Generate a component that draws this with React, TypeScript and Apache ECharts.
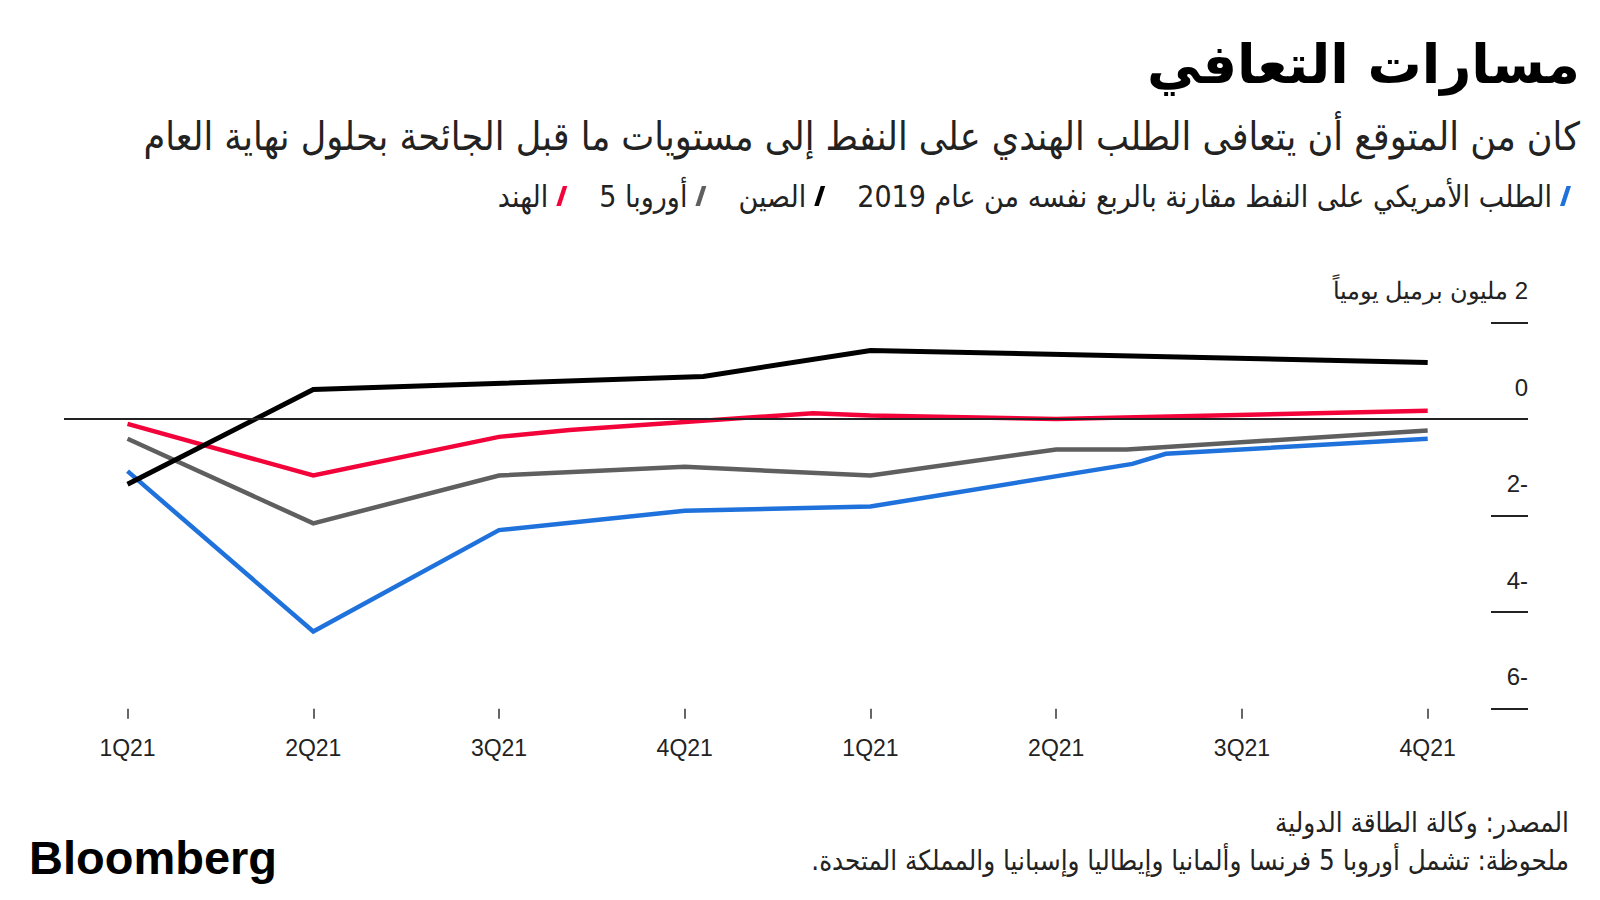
import React, { useEffect, useRef } from 'react';
import * as echarts from 'echarts';

// ---------- data ----------
const quarterLabels = ['1Q21', '2Q21', '3Q21', '4Q21', '1Q21', '2Q21', '3Q21', '4Q21'];
const quarterTicks = [0, 1, 2, 3, 4, 5, 6, 7];

const usName = 'الطلب الأمريكي على النفط مقارنة بالربع نفسه من عام 2019';
const chinaName = 'الصين';
const europeName = 'أوروبا 5';
const indiaName = 'الهند';

// x = quarter position, y = change vs same quarter of 2019 (million b/d)
const usQuarter = [0, 1, 2, 3, 4, 5.41, 5.59, 7];
const usDemand = [-1.08, -4.4, -2.3, -1.9, -1.81, -0.93, -0.72, -0.41];

const chinaQuarter = [0, 1, 3.1, 4, 7];
const chinaDemand = [-1.35, 0.61, 0.88, 1.42, 1.17];

const europeQuarter = [0, 1, 2, 3, 4, 5, 5.38, 7];
const europeDemand = [-0.41, -2.16, -1.17, -0.99, -1.17, -0.63, -0.63, -0.24];

const indiaQuarter = [0, 1, 2, 2.38, 3.69, 4, 5, 7];
const indiaDemand = [-0.1, -1.17, -0.37, -0.23, 0.12, 0.07, 0.0, 0.17];

// ---------- texts ----------
const titleText = 'مسارات التعافي';
const subtitleText = 'كان من المتوقع أن يتعافى الطلب الهندي على النفط إلى مستويات ما قبل الجائحة بحلول نهاية العام';
const unitText = 'مليون برميل يومياً';
const sourceText = 'المصدر: وكالة الطاقة الدولية';
const noteText = 'ملحوظة: تشمل أوروبا 5 فرنسا وألمانيا وإيطاليا وإسبانيا والمملكة المتحدة.';
const logoText = 'Bloomberg';

const RLM = '\u200F';
const AR = "'DejaVu Sans Condensed', 'DejaVu Sans', sans-serif";
const AR_BOLD = "'DejaVu Sans', sans-serif";
const LAT = "'Liberation Sans', Arial, sans-serif";

const COLORS = {
  us: '#1f72dc',
  china: '#000000',
  europe: '#5f5f5f',
  india: '#f2043a',
};

// legend order, right to left
const legendNames = [usName, chinaName, europeName, indiaName];
const legendColors = [COLORS.us, COLORS.china, COLORS.europe, COLORS.india];

const pairs = (xs: number[], ys: number[]) => xs.map((x, i) => [x, ys[i]]);

export default function App() {
  const ref = useRef<HTMLDivElement>(null);

  useEffect(() => {
    if (!ref.current) return;
    const chart = echarts.init(ref.current, undefined, { renderer: 'svg' });

    const lineSeries = (name: string, color: string, xs: number[], ys: number[], width: number, extra: any = {}) => ({
      name,
      type: 'line',
      data: pairs(xs, ys),
      showSymbol: false,
      symbol: 'none',
      lineStyle: { color, width, cap: 'butt', join: 'miter' },
      itemStyle: { color },
      ...extra,
    });

    // legend built as graphic (right-to-left)
    const legendFontSize = 30;
    const ctx = document.createElement('canvas').getContext('2d');
    if (ctx) ctx.font = `${legendFontSize}px ${AR}`;
    const legendGraphics: any[] = [];
    let xRight = 1571;
    const legendY = 196;
    legendNames.forEach((name, i) => {
      const w = ctx ? ctx.measureText(name).width : name.length * 14;
      legendGraphics.push({
        type: 'polygon',
        x: xRight - 11,
        y: legendY - 10,
        shape: { points: [[6.5, 0], [11, 0], [4.5, 20], [0, 20]] },
        style: { fill: legendColors[i] },
      });
      legendGraphics.push({
        type: 'text',
        x: xRight - 11 - 8,
        y: legendY,
        style: {
          text: name,
          fontFamily: AR,
          fontSize: legendFontSize,
          fill: '#222',
          align: 'right',
          verticalAlign: 'middle',
        },
      });
      xRight = xRight - 19 - w - 32;
    });

    chart.setOption({
      animation: false,
      backgroundColor: '#ffffff',
      grid: { left: 64, right: 72, top: 322.4, bottom: 191.2, containLabel: false },
      xAxis: {
        type: 'value',
        min: -0.342,
        max: 7.54,
        axisLine: { show: false, onZero: false },
        splitLine: { show: false },
        axisTick: {
          show: true,
          customValues: quarterTicks,
          length: 10,
          lineStyle: { color: '#333', width: 1.5 },
        },
        axisLabel: {
          customValues: quarterTicks,
          formatter: (v: number) => quarterLabels[Math.round(v)],
          fontFamily: LAT,
          fontSize: 23,
          color: '#222',
          margin: 28,
        },
      },
      yAxis: {
        type: 'value',
        position: 'right',
        min: -6,
        max: 2,
        interval: 2,
        axisLine: { show: false, onZero: false },
        splitLine: { show: false },
        axisTick: {
          show: true,
          inside: true,
          length: 37,
          lineStyle: { color: '#222', width: 2 },
        },
        axisLabel: {
          inside: true,
          margin: 0,
          fontFamily: LAT,
          fontSize: 24,
          color: '#222',
          verticalAlign: 'bottom',
          padding: [0, 0, 20, 0],
          formatter: (v: number) => {
            if (v === 2) return RLM + '2 ' + unitText;
            if (v < 0) return RLM + String(v);
            return String(v);
          },
        },
      },
      series: [
        lineSeries(usName, COLORS.us, usQuarter, usDemand, 4.5, {
          markLine: {
            silent: true,
            symbol: ['none', 'none'],
            label: { show: false },
            lineStyle: { color: '#222', width: 2, type: 'solid' },
            data: [{ yAxis: 0 }],
          },
        }),
        lineSeries(europeName, COLORS.europe, europeQuarter, europeDemand, 4.5),
        lineSeries(indiaName, COLORS.india, indiaQuarter, indiaDemand, 4.5),
        lineSeries(chinaName, COLORS.china, chinaQuarter, chinaDemand, 5),
      ],
      graphic: [
        {
          type: 'text',
          x: 1580,
          y: 64,
          style: { text: titleText, fontFamily: AR_BOLD, fontWeight: 'bold', fontSize: 54, fill: '#000', align: 'right', verticalAlign: 'middle' },
        },
        {
          type: 'text',
          x: 1580,
          y: 136,
          style: { text: subtitleText, fontFamily: AR, fontSize: 39, fill: '#222', align: 'right', verticalAlign: 'middle' },
        },
        ...legendGraphics,
        {
          type: 'text',
          x: 1569,
          y: 822,
          style: { text: sourceText, fontFamily: AR, fontSize: 27.5, fill: '#222', align: 'right', verticalAlign: 'middle' },
        },
        {
          type: 'text',
          x: 1569,
          y: 860,
          style: { text: noteText + RLM, fontFamily: AR, fontSize: 27.5, fill: '#222', align: 'right', verticalAlign: 'middle' },
        },
        {
          type: 'text',
          x: 29,
          y: 857,
          style: { text: logoText, fontFamily: LAT, fontWeight: 'bold', fontSize: 47, fill: '#000', align: 'left', verticalAlign: 'middle' },
        },
      ],
    });

    return () => chart.dispose();
  }, []);

  return <div ref={ref} style={{ position: 'fixed', left: 0, top: 0, width: 1600, height: 900, background: '#fff' }} />;
}
